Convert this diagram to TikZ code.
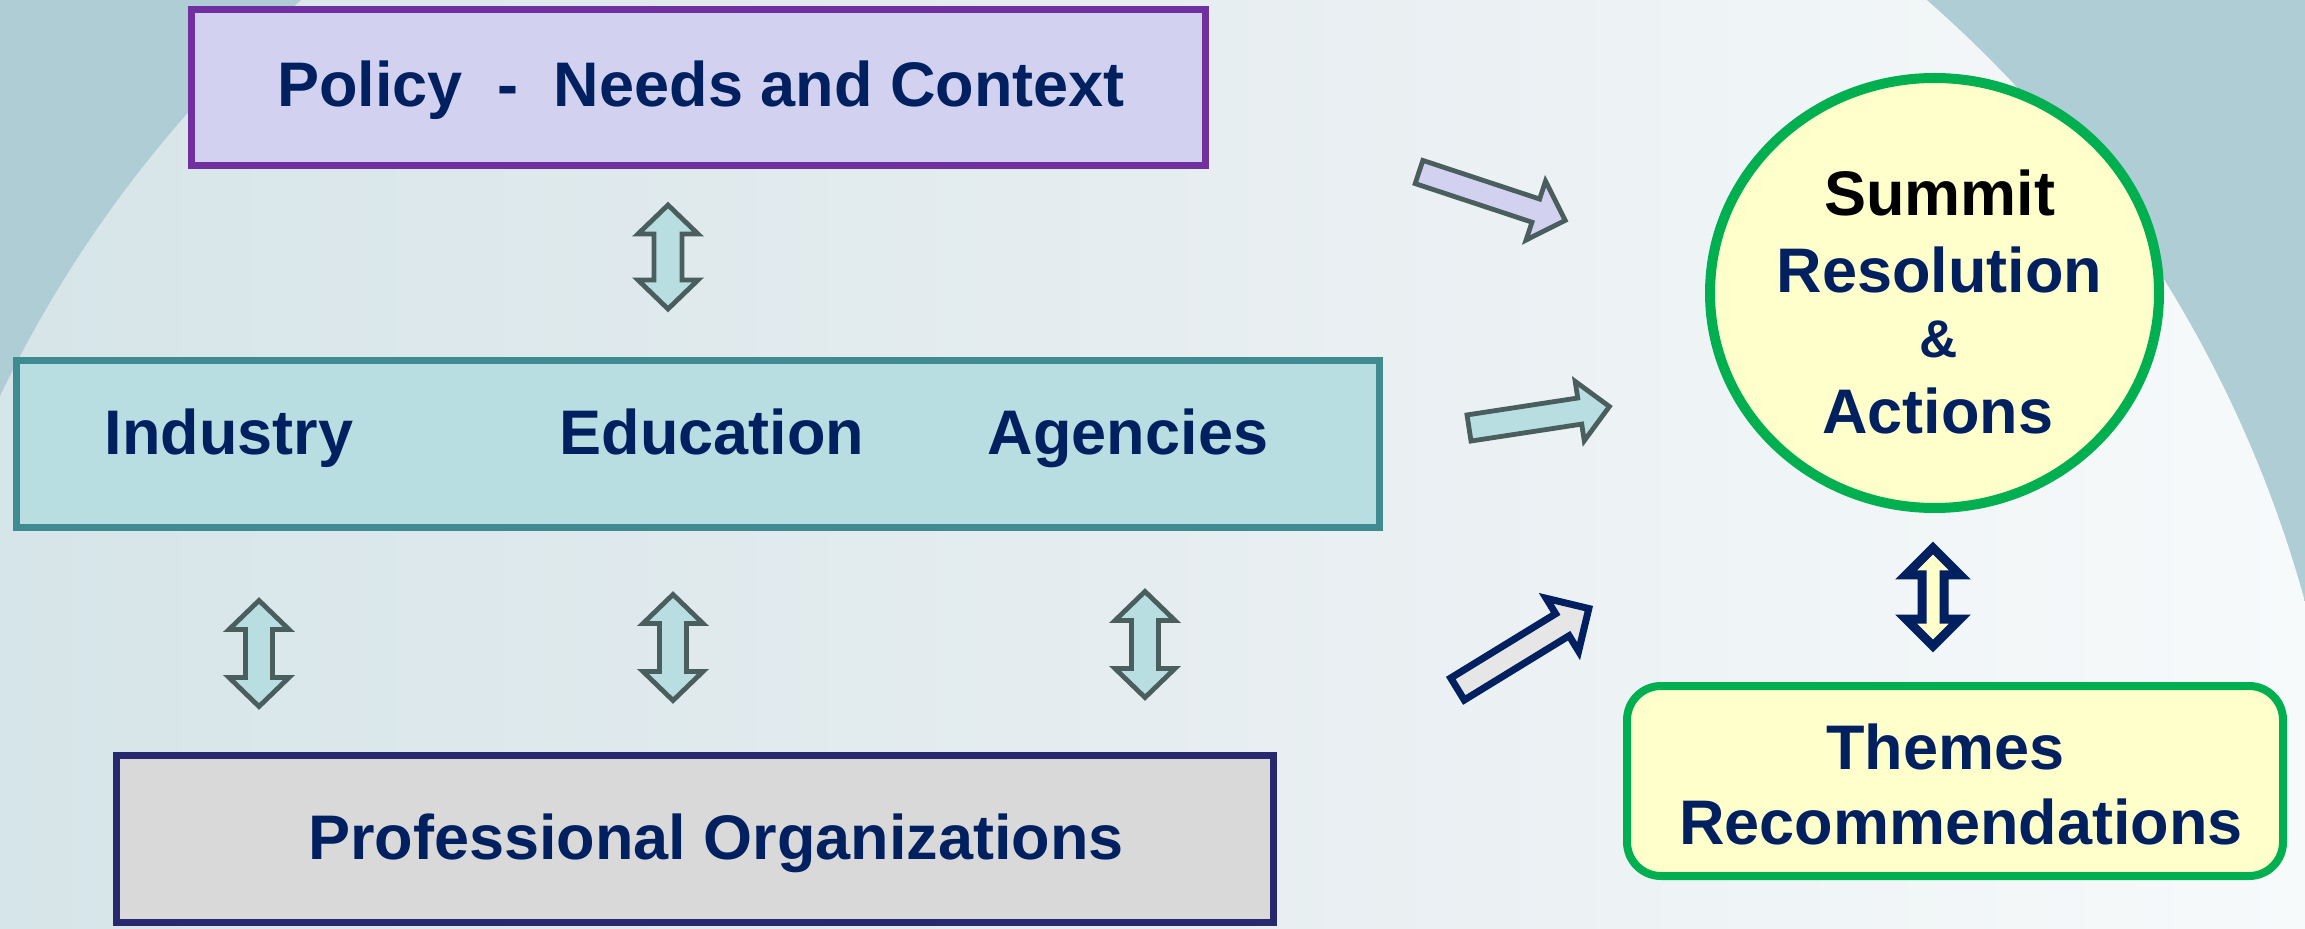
\documentclass[tikz,border=0pt]{standalone}
\usepackage{fontspec}
\setmainfont{Liberation Sans}
\usetikzlibrary{shapes.geometric}
\definecolor{sky}{HTML}{AECDD5}
\definecolor{moonl}{HTML}{D6E5E9}
\definecolor{moonm}{HTML}{E6EDF0}
\definecolor{moonr}{HTML}{F7FAFB}
\definecolor{navy}{HTML}{002060}
\definecolor{purp}{HTML}{7030A0}
\definecolor{lav}{HTML}{D2D2F0}
\definecolor{tealline}{HTML}{3E8C92}
\definecolor{tealfill}{HTML}{B9DEE2}
\definecolor{indigo}{HTML}{28286E}
\definecolor{grayfill}{HTML}{D9D9D9}
\definecolor{lightgray}{HTML}{E6E6E6}
\definecolor{grn}{HTML}{00B050}
\definecolor{cream}{HTML}{FFFFCC}
\definecolor{slate}{HTML}{4A5E5E}
\newcommand\onearrow[8]{%
  \draw[#1, shift={(#2,#3)}, rotate=#4]
    (0,-#6) -- ({#5-#8},-#6) -- ({#5-#8},-#7) -- (#5,0) -- ({#5-#8},#7) -- ({#5-#8},#6) -- (0,#6) -- cycle;}
\newcommand\twoarrow[7]{%
  \draw[#1, shift={(#2,#3)}]
    (-#5,{-#4+#7}) -- (-#6,{-#4+#7}) -- (0,-#4) -- (#6,{-#4+#7}) -- (#5,{-#4+#7})
    -- (#5,{#4-#7}) -- (#6,{#4-#7}) -- (0,#4) -- (-#6,{#4-#7}) -- (-#5,{#4-#7}) -- cycle;}
\begin{document}
\begin{tikzpicture}[x=0.5pt,y=-0.5pt,
  lbl/.style={font=\fontsize{31.5}{36}\selectfont\bfseries, text=navy, inner sep=0pt},
  boxnode/.style={inner sep=0pt},
  grayarrow/.style={draw=slate, line width=2.4pt, line join=miter},
  navyarrow/.style={draw=navy, line width=3.5pt, line join=miter}]
\useasboundingbox (0,0) rectangle (2305,929);
\fill[sky] (0,0) rectangle (2305,929);
\begin{scope}
  \clip (0,0) rectangle (2305,929);
  \clip (1114,930) circle (1235);
  \shade[left color=moonl, right color=moonr, middle color=moonm] (0,0) rectangle (2305,929);
\end{scope}
% boxes
\node[boxnode, draw=purp, line width=3.5pt, fill=lav, minimum width=507pt, minimum height=78pt] (policy) at (698.5,87.5) {};
\node[boxnode, draw=tealline, line width=3.5pt, fill=tealfill, minimum width=681.5pt, minimum height=83.5pt] (middle) at (698,444) {};
\node[boxnode, draw=indigo, line width=3.5pt, fill=grayfill, minimum width=578.5pt, minimum height=83.5pt] (prof) at (695,839) {};
\node[boxnode, ellipse, draw=grn, line width=5pt, fill=cream, minimum width=224.5pt, minimum height=215pt] (summit) at (1934.5,293) {};
\node[boxnode, draw=grn, line width=4pt, fill=cream, rounded corners=17pt, minimum width=328pt, minimum height=95pt] (themes) at (1955,781) {};
% texts
\node[lbl, anchor=base] (tpolicy) at (701,107) {Policy\ \ -\ \ Needs and Context};
\node[lbl, anchor=base] (tind) at (229,455) {Industry};
\node[lbl, anchor=base] (tedu) at (712,455) {Education};
\node[lbl, anchor=base] (tage) at (1128,455) {Agencies};
\node[lbl, anchor=base] (tprof) at (716,859) {Professional Organizations};
\node[lbl, anchor=base, text=black] (tsum) at (1939.5,216) {Summit};
\node[lbl, anchor=base] (tres) at (1939.5,293) {Resolution};
\node[lbl, anchor=base, font=\fontsize{26.5}{30}\selectfont\bfseries] (tamp) at (1938.5,358) {\&};
\node[lbl, anchor=base] (tact) at (1937.5,434) {Actions};
\node[lbl, anchor=base] (tthe) at (1945.5,769) {Themes};
\node[lbl, anchor=base] (trec) at (1961,844) {Recommendations};
% vertical double arrows
\twoarrow{grayarrow, fill=tealfill}{668}{257}{52}{14}{30}{29}
\twoarrow{grayarrow, fill=tealfill}{259}{653.5}{53}{13.5}{30}{29}
\twoarrow{grayarrow, fill=tealfill}{673}{647.5}{53}{13.5}{30}{29}
\twoarrow{grayarrow, fill=tealfill}{1145}{644.5}{53}{13.5}{30}{29}
\twoarrow{line width=4.5pt, draw=navy, line join=miter, fill=cream}{1933}{597}{49}{11}{27}{27}
% diagonal arrows
\onearrow{grayarrow, fill=lav}{1419}{172}{-18.3}{154}{12.2}{31}{31}
\onearrow{grayarrow, fill=tealfill}{1469}{428}{8.7}{142}{13.2}{30}{30}
\onearrow{navyarrow, fill=lightgray}{1457.5}{689}{31.5}{154}{12.9}{31}{31}
\end{tikzpicture}
\end{document}
